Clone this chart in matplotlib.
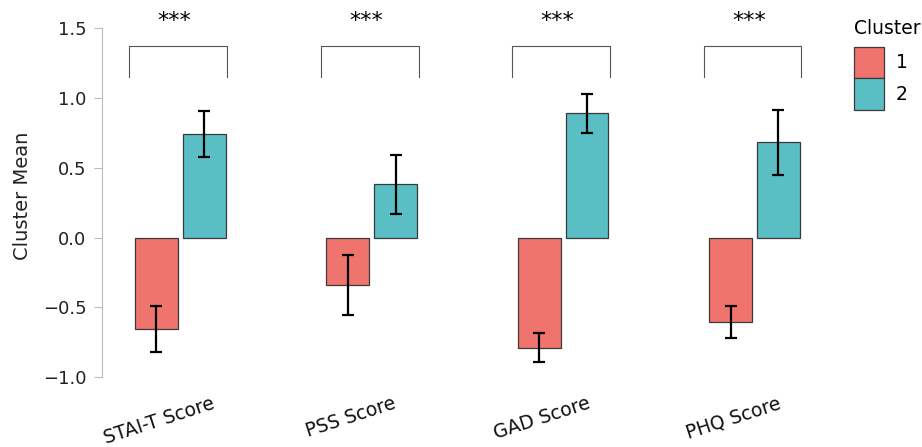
import matplotlib
matplotlib.use("Agg")
import matplotlib.pyplot as plt
import matplotlib.transforms as mtransforms
from matplotlib.patches import Patch
import numpy as np

# data
scores = ["STAI-T Score", "PSS Score", "GAD Score", "PHQ Score"]
cluster1_mean = [-0.655, -0.34, -0.79, -0.605]
cluster1_err = [0.165, 0.218, 0.104, 0.115]
cluster2_mean = [0.74, 0.383, 0.89, 0.684]
cluster2_err = [0.165, 0.212, 0.14, 0.233]
signif = ["***", "***", "***", "***"]
cluster_labels = ["1", "2"]

red = "#F0746E"
teal = "#5ABFC4"
edge = "#3a3a3a"

plt.rcParams['font.family'] = ['DejaVu Sans']

fig = plt.figure(figsize=(9.22, 4.47), dpi=100)
ax = fig.add_axes([0.1103, 0.1376, 0.7932, 0.849])

x = np.arange(len(scores))
w = 0.224
gap = 0.026
err_kw = dict(elinewidth=1.6, capthick=1.6, ecolor="black")

ax.bar(x - gap / 2 - w / 2, cluster1_mean, w, color=red, edgecolor=edge,
       linewidth=0.9, yerr=cluster1_err, capsize=4.5, error_kw=err_kw)
ax.bar(x + gap / 2 + w / 2, cluster2_mean, w, color=teal, edgecolor=edge,
       linewidth=0.9, yerr=cluster2_err, capsize=4.5, error_kw=err_kw)

# significance brackets
for xi, s in zip(x, signif):
    left = xi - 0.266
    right = xi + 0.245
    ax.plot([left, left, right, right], [1.15, 1.37, 1.37, 1.15],
            color="#555555", linewidth=0.8, clip_on=False)
    ax.text((left + right) / 2 - 0.02, 1.555, s, ha="center", va="center",
            fontsize=16, color="black")

ax.set_xlim(-0.41, 3.41)
ax.set_ylim(-1.06, 1.66)
ax.set_yticks([-1.0, -0.5, 0.0, 0.5, 1.0, 1.5])
ax.set_yticklabels(["\u22121.0", "\u22120.5", "0.0", "0.5", "1.0", "1.5"])
ax.tick_params(axis="y", labelsize=13, length=6, color="#bbbbbb",
               labelcolor="#222222", pad=5)
ax.set_ylabel("Cluster Mean", fontsize=14, color="#222222", labelpad=8)

ax.set_xticks(x)
ax.set_xticklabels(scores, rotation=18, ha="center", fontsize=13.5,
                   color="#111111")
ax.tick_params(axis="x", length=0, pad=6)
offset = mtransforms.ScaledTranslation(-0.21, 0, fig.dpi_scale_trans)
for lab in ax.get_xticklabels():
    lab.set_transform(lab.get_transform() + offset)

for side in ["top", "right", "bottom"]:
    ax.spines[side].set_visible(False)
ax.spines["left"].set_bounds(-1.0, 1.5)
ax.spines["left"].set_color("#bbbbbb")

handles = [Patch(facecolor=red, edgecolor=edge, linewidth=0.9),
           Patch(facecolor=teal, edgecolor=edge, linewidth=0.9)]
leg = fig.legend(handles, cluster_labels, title="Cluster", loc="upper left",
                 bbox_to_anchor=(846 / 922, 1 - 12 / 447), frameon=False,
                 fontsize=13.5, title_fontsize=13.5, handlelength=1.65,
                 handleheight=2.2, labelspacing=0.0, handletextpad=0.6,
                 borderpad=0.4, borderaxespad=0)
leg._legend_box.align = "left"
leg._legend_box.sep = 6  # gap between title and patches

fig.savefig("out.png", dpi=100)
